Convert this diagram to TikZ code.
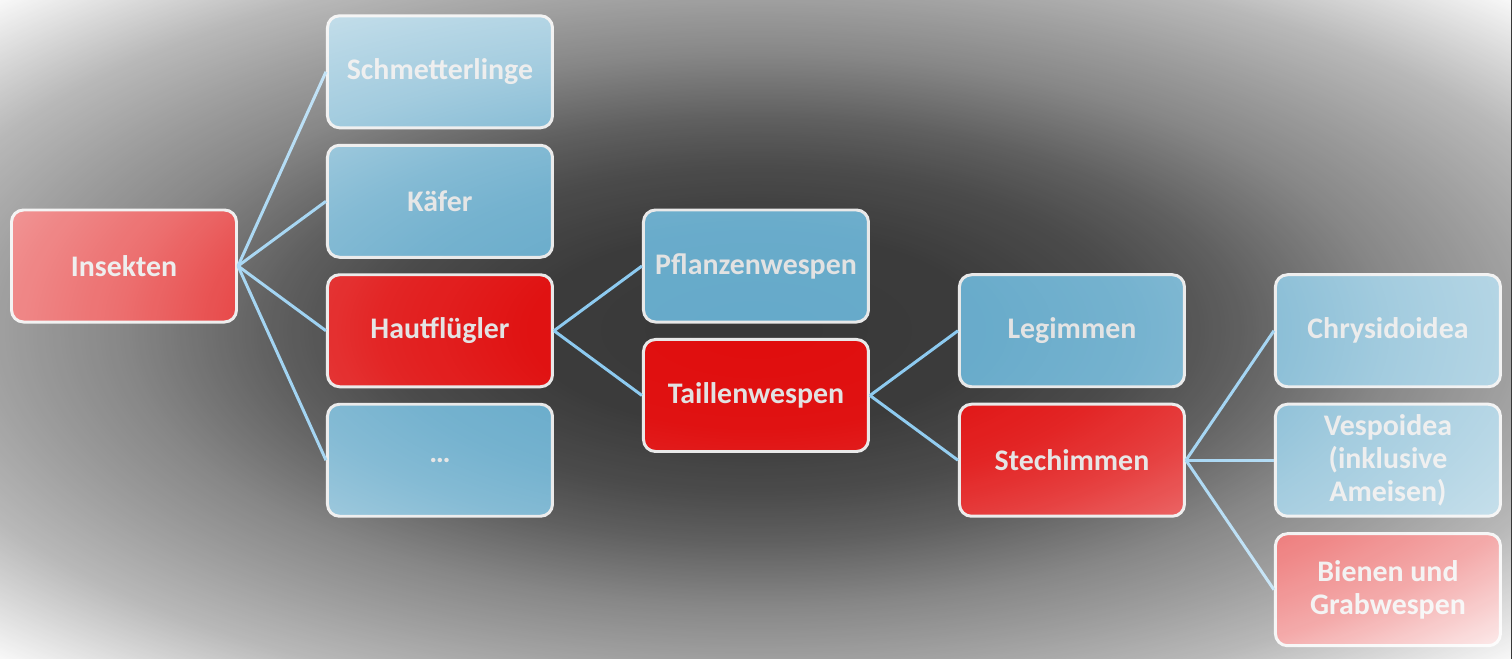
\documentclass[tikz,border=0pt]{standalone}
\usepackage{fontspec}
\setmainfont{Carlito}
\usetikzlibrary{positioning,fadings}
\definecolor{bgdark}{RGB}{56,56,56}
\definecolor{boxblue}{RGB}{102,170,202}
\definecolor{boxred}{RGB}{224,14,14}
\definecolor{linkblue}{RGB}{140,202,240}
\definecolor{rimgray}{RGB}{232,232,232}
\definecolor{txtgray}{RGB}{226,226,226}
% white glow towards the edges
\pgfdeclareradialshading{glowshade}{\pgfpointorigin}{color(0bp)=(black); color(15bp)=(white!2!black); color(25bp)=(white!10!black); color(32bp)=(white!20!black); color(42bp)=(white!40!black); color(50bp)=(white!52!black); color(58bp)=(white!65!black); color(66bp)=(white!85!black); color(72bp)=(white)}
\pgfdeclarefading{glow}{\pgfuseshading{glowshade}}

\begin{document}
\begin{tikzpicture}[
    box/.style={draw=rimgray,line width=1.7pt,rounded corners=0.24cm,minimum width=4.5cm,minimum height=2.24cm,inner sep=0pt,align=center,text=txtgray,font=\bfseries\fontsize{17}{19}\selectfont},
    hot/.style={box,fill=boxred},
    cool/.style={box,fill=boxblue},
    link/.style={draw=linkblue,line width=1.7pt}]
    \coordinate (tl) at (-2.48,5.32);
    \coordinate (br) at (27.76,-7.86);
    \fill[bgdark] (tl) rectangle (br);

    \node[hot] (ins) {Insekten};
    \node[hot,right=1.76cm of ins,yshift=-1.295cm] (haut) {Hautflügler};
    \node[cool,above=0.29cm of haut] (kaef) {Käfer};
    \node[cool,above=0.29cm of kaef] (schm) {Schmetterlinge};
    \node[cool,below=0.29cm of haut] (dots) {\ldots};
    \node[cool,right=1.76cm of haut,yshift=1.295cm] (pfl) {Pflanzenwespen};
    \node[hot,below=0.29cm of pfl] (tail) {Taillenwespen};
    \node[cool,right=1.76cm of tail,yshift=1.295cm] (leg) {Legimmen};
    \node[hot,below=0.29cm of leg] (stech) {Stechimmen};
    \node[cool,right=1.76cm of leg] (chry) {Chrysidoidea};
    \node[cool,below=0.29cm of chry] (vesp) {Vespoidea\\(inklusive\\Ameisen)};
    \node[hot,below=0.29cm of vesp] (bien) {Bienen und\\Grabwespen};

    \draw[link] (ins.east)--(schm.west);
    \draw[link] (ins.east)--(kaef.west);
    \draw[link] (ins.east)--(haut.west);
    \draw[link] (ins.east)--(dots.west);
    \draw[link] (haut.east)--(pfl.west);
    \draw[link] (haut.east)--(tail.west);
    \draw[link] (tail.east)--(leg.west);
    \draw[link] (tail.east)--(stech.west);
    \draw[link] (stech.east)--(chry.west);
    \draw[link] (stech.east)--(vesp.west);
    \draw[link] (stech.east)--(bien.west);

    \fill[white,path fading=glow,fit fading=false,
      fading transform={shift={(12.64,-1.27)},xscale=8.57,yscale=3.74}] (tl) rectangle (br);
  \end{tikzpicture}
\end{document}
